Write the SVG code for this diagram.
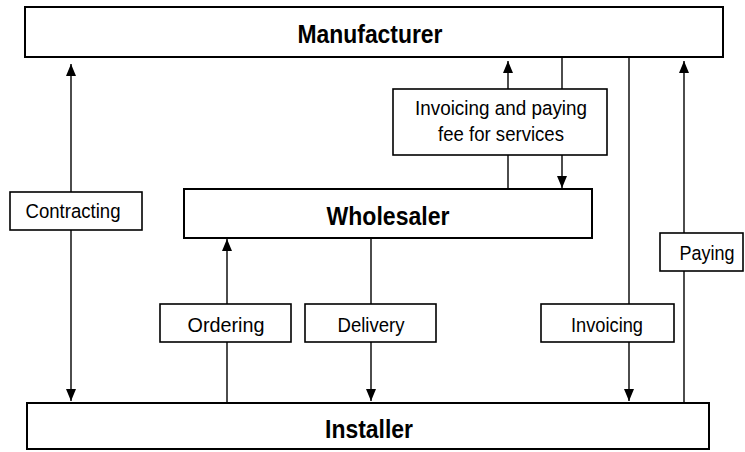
<svg xmlns="http://www.w3.org/2000/svg" width="745" height="452" viewBox="0 0 745 452">
<style>
.box{fill:#fff;stroke:#000;stroke-width:2}
.lbl{fill:#fff;stroke:#000;stroke-width:1.6}
.big{font-family:"Liberation Sans",Arial,sans-serif;font-weight:bold;font-size:25px;fill:#000;text-anchor:middle}
.sm{font-family:"Liberation Sans",Arial,sans-serif;font-size:20.5px;fill:#000;text-anchor:middle}
.con path{fill:none;stroke:#000;stroke-width:1.4}
</style>
<defs>
<marker id="ah" viewBox="0 0 12 10" refX="12" refY="5" markerWidth="12" markerHeight="10" markerUnits="userSpaceOnUse" orient="auto">
<path d="M0,0 L12,5 L0,10 Z" fill="#000"/>
</marker>
</defs>
<rect width="745" height="452" fill="#fff"/>
<g class="con">
<path d="M71,192 V64" marker-end="url(#ah)"/>
<path d="M71,230 V401" marker-end="url(#ah)"/>
<path d="M227,304 V239" marker-end="url(#ah)"/>
<path d="M227,342 V403"/>
<path d="M371,238 V304"/>
<path d="M371,342 V401" marker-end="url(#ah)"/>
<path d="M508,189 V155"/>
<path d="M508,89 V61" marker-end="url(#ah)"/>
<path d="M562,57 V89"/>
<path d="M562,155 V188" marker-end="url(#ah)"/>
<path d="M629,57 V304"/>
<path d="M629,342 V401" marker-end="url(#ah)"/>
<path d="M684,403 V271"/>
<path d="M684,233 V61" marker-end="url(#ah)"/>
</g>
<g id="manufacturer">
<rect class="box" x="25" y="7" width="698" height="50"/>
<text class="big" x="370" y="43" textLength="145" lengthAdjust="spacingAndGlyphs">Manufacturer</text>
</g>
<g id="wholesaler">
<rect class="box" x="184" y="189" width="408" height="49"/>
<text class="big" x="388" y="225" textLength="123" lengthAdjust="spacingAndGlyphs">Wholesaler</text>
</g>
<g id="installer">
<rect class="box" x="27" y="403" width="682" height="46"/>
<text class="big" x="369" y="438" textLength="88" lengthAdjust="spacingAndGlyphs">Installer</text>
</g>
<g id="fee">
<rect class="lbl" x="393" y="89" width="214" height="66"/>
<text class="sm" x="501" y="115" textLength="172" lengthAdjust="spacingAndGlyphs">Invoicing and paying</text>
<text class="sm" x="501" y="141" textLength="126" lengthAdjust="spacingAndGlyphs">fee for services</text>
</g>
<g id="contracting">
<rect class="lbl" x="10" y="192" width="132" height="38"/>
<text class="sm" x="73" y="218" textLength="95" lengthAdjust="spacingAndGlyphs">Contracting</text>
</g>
<g id="ordering">
<rect class="lbl" x="160" y="304" width="131" height="38"/>
<text class="sm" x="226" y="332" textLength="77" lengthAdjust="spacingAndGlyphs">Ordering</text>
</g>
<g id="delivery">
<rect class="lbl" x="305" y="304" width="131" height="38"/>
<text class="sm" x="371" y="332" textLength="67" lengthAdjust="spacingAndGlyphs">Delivery</text>
</g>
<g id="invoicing">
<rect class="lbl" x="541" y="304" width="133" height="38"/>
<text class="sm" x="607" y="332" textLength="72" lengthAdjust="spacingAndGlyphs">Invoicing</text>
</g>
<g id="paying">
<rect class="lbl" x="660" y="233" width="83" height="38"/>
<text class="sm" x="707" y="260" textLength="55" lengthAdjust="spacingAndGlyphs">Paying</text>
</g>
</svg>
